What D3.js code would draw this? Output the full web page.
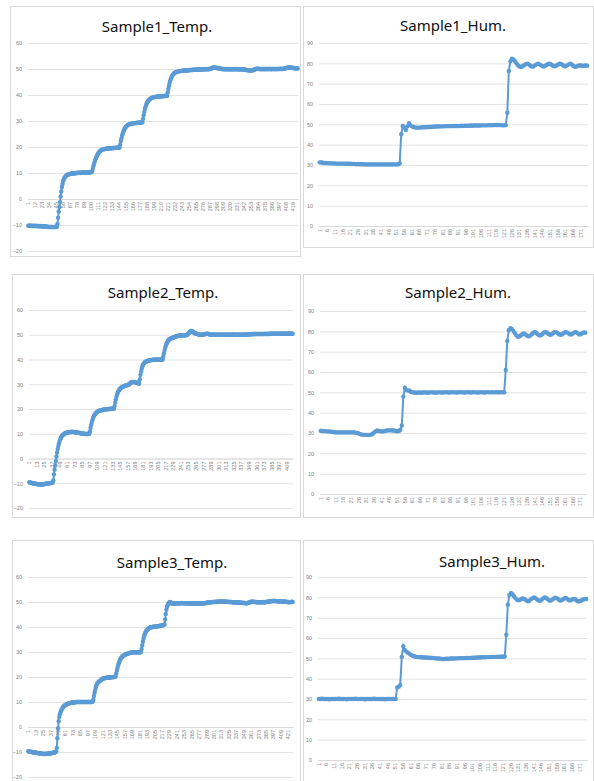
<!DOCTYPE html>
<html>
<head>
<meta charset="utf-8">
<script src="https://cdn.jsdelivr.net/npm/d3@7"></script>
<style>
  body { margin: 0; background: #fff; }
  svg { display: block; }
</style>
</head>
<body>
<div id="chart"></div>
<script>

// values (one point per sample)
var temp1 = [
  -10.3,-10.3,-10.4,-10.3,-10.3,-10.4,-10.4,-10.3,-10.4,-10.4,
  -10.4,-10.3,-10.4,-10.4,-10.5,-10.4,-10.4,-10.5,-10.5,-10.4,
  -10.5,-10.5,-10.6,-10.6,-10.5,-10.6,-10.7,-10.7,-10.6,-10.7,
  -10.7,-10.8,-10.7,-10.8,-10.8,-10.8,-10.7,-10.8,-10.8,-10.8,
  -10.8,-10.8,-10.7,-10.8,-10.8,-10.7,
  -9.6,-7.2,-4.8,-3.1,-1.2,1.0,2.9,4.6,5.8,6.9,
  7.6,8.1,8.5,8.8,9.0,9.2,9.3,9.4,9.5,9.6,9.6,9.7,9.7,
  9.8,9.8,9.9,9.8,9.9,10.0,9.9,10.0,10.0,10.1,10.0,10.1,10.1,10.0,10.1,10.2,10.1,10.1,10.2,10.2,
  10.1,10.2,10.2,10.3,10.2,10.2,10.3,10.2,10.3,10.3,10.3,10.4,
  10.8,11.9,12.9,13.8,14.6,15.3,15.9,16.5,17.0,17.4,17.8,18.1,18.4,18.6,18.8,
  18.9,19.0,19.1,19.1,19.2,19.2,19.3,19.3,19.3,19.4,19.4,19.4,19.5,19.4,19.5,19.5,19.6,19.5,19.6,19.6,
  19.6,19.7,19.6,19.7,19.7,19.7,19.8,19.7,19.8,
  21.0,22.3,23.4,24.4,25.2,25.9,26.5,27.0,27.4,27.8,28.1,28.3,28.5,28.6,28.7,28.8,28.9,28.9,
  29.0,29.0,29.1,29.1,29.1,29.2,29.2,29.2,29.3,29.2,29.3,29.3,29.3,29.4,29.3,29.4,29.4,29.5,
  30.8,32.2,33.5,34.6,35.5,36.2,36.8,37.3,37.7,38.0,38.3,38.5,38.7,38.8,38.9,39.0,
  39.1,39.1,39.2,39.2,39.3,39.3,39.3,39.4,39.4,39.4,39.5,39.4,39.5,39.5,39.5,39.6,39.5,39.6,39.6,39.6,39.7,39.6,39.7,
  41.0,42.4,43.6,44.7,45.6,46.3,46.9,47.4,47.8,48.1,48.3,48.5,48.7,48.8,48.9,49.0,49.0,49.1,49.1,
  49.2,49.2,49.2,49.3,49.3,49.3,49.3,49.4,49.4,49.4,49.4,49.5,49.5,49.5,49.5,49.5,49.6,49.6,49.6,49.6,
  49.6,49.7,49.7,49.7,49.7,49.7,49.7,49.8,49.8,49.8,49.8,49.8,49.8,
  49.8,49.9,49.9,49.9,49.8,49.9,49.9,49.9,49.9,50.0,49.9,49.9,50.0,49.9,50.0,50.0,50.1,50.2,
  50.4,50.5,50.6,50.6,50.6,50.5,50.5,50.4,50.4,50.3,50.3,50.2,50.2,
  50.1,50.1,50.0,50.0,50.0,49.9,49.9,50.0,49.9,49.9,49.9,50.0,49.9,49.9,49.9,49.9,50.0,49.9,49.9,49.9,
  49.9,49.9,50.0,49.9,49.9,49.9,50.0,49.9,49.9,49.9,49.9,49.9,49.8,49.9,49.9,49.8,49.8,49.8,49.7,49.7,
  49.7,49.6,
  49.6,49.5,49.5,49.5,49.4,49.4,49.4,49.4,49.5,49.5,49.6,49.7,49.8,49.9,50.0,
  50.1,50.1,50.1,50.0,50.0,50.0,50.0,50.0,49.9,50.0,50.0,50.0,49.9,50.0,50.0,50.0,50.0,49.9,50.0,50.0,
  50.0,50.0,50.0,49.9,50.0,50.0,50.0,50.0,50.0,50.0,49.9,50.0,50.0,50.0,50.0,50.0,50.0,50.0,50.1,50.0,
  50.0,50.0,50.1,50.1,50.1,
  50.2,50.3,50.4,50.5,50.5,50.6,50.6,50.6,50.6,50.5,50.5,50.5,50.4,50.4,50.4,50.3,50.3,50.3,50.2,50.3,50.2
];

var hum1 = [
  31.3,31.2,31.1,31.0,31.0,30.9,30.9,30.8,30.8,30.8,30.8,30.7,30.7,30.7,30.7,30.7,30.7,30.6,30.6,30.6,
  30.6,30.5,30.5,30.5,30.4,30.5,30.4,30.4,30.4,30.3,30.3,30.3,30.3,30.3,30.3,30.3,30.3,30.3,30.3,30.3,
  30.3,30.3,30.3,30.3,30.3,30.3,30.3,30.3,30.3,30.3,30.3,30.4,30.8,
  45.1,49.2,48.4,47.2,49.0,50.6,49.6,
  49.0,48.7,48.5,48.4,48.4,48.4,48.5,48.6,48.6,48.6,48.7,48.7,48.7,48.8,48.8,48.9,48.9,49.0,48.9,49.0,
  49.0,49.0,49.1,49.1,49.1,49.1,49.2,49.1,49.2,49.2,49.2,49.2,49.3,49.2,49.3,49.3,49.3,49.3,49.4,49.3,
  49.4,49.4,49.4,49.4,49.4,49.5,49.5,49.5,49.5,49.5,49.6,49.5,49.6,49.6,49.7,49.7,49.7,49.6,49.6,49.5,
  49.5,49.6,
  55.7,76.2,81.0,82.3,81.9,81.0,80.0,79.0,78.4,78.3,78.6,79.1,79.6,79.8,79.4,78.8,78.4,78.5,79.0,79.5,
  79.8,79.5,79.0,78.6,78.5,78.9,79.4,79.8,79.7,79.2,78.7,78.6,78.9,79.4,79.8,79.7,79.2,78.7,78.6,79.0,
  79.5,79.8,79.4,78.7,78.3,78.4,78.8,79.0,78.9,78.7,78.8,79.0,78.8
];

var temp2 = [
  -9.6,-9.7,-9.8,-9.8,-9.9,-10.0,-10.0,-10.1,-10.1,-10.2,-10.2,-10.3,-10.3,-10.4,-10.4,-10.4,-10.5,-10.5,-10.5,-10.5,
  -10.4,-10.5,-10.4,-10.4,-10.3,-10.3,-10.2,-10.2,-10.1,-10.1,-10.0,-10.0,-10.0,-9.9,-9.9,-9.9,-9.8,-9.8,
  -8.9,-6.4,-4.5,-2.8,-1.0,0.8,2.4,3.9,5.1,6.2,7.1,7.8,8.4,8.9,
  9.2,9.5,9.7,9.9,10.0,10.2,10.3,10.4,10.5,10.5,10.6,10.6,10.7,10.7,10.7,10.7,10.8,10.7,10.7,10.7,
  10.6,10.6,10.6,10.5,10.5,10.4,10.4,10.3,10.3,10.2,10.2,10.1,10.1,10.0,10.0,10.0,9.9,9.9,9.9,9.9,
  9.9,9.9,10.0,10.0,
  10.9,12.3,13.6,14.7,15.6,16.4,17.0,17.5,17.9,18.2,18.5,18.7,18.9,19.1,
  19.2,19.3,19.4,19.5,19.5,19.6,19.6,19.7,19.7,19.8,19.8,19.8,19.9,19.9,19.9,20.0,20.0,20.0,20.1,20.0,
  20.1,20.1,20.1,20.0,20.1,
  21.2,22.6,23.9,25.0,25.9,26.6,27.2,27.6,28.0,28.3,28.5,28.7,28.9,29.0,29.1,
  29.2,29.3,29.4,29.5,29.6,29.7,29.7,29.8,30.0,30.2,30.4,30.6,30.8,30.9,30.9,30.9,30.9,30.8,30.8,30.7,
  30.6,30.5,30.4,30.3,30.3,
  32.0,33.8,35.2,36.3,37.2,37.9,38.3,38.6,38.9,39.1,
  39.2,39.3,39.4,39.5,39.6,39.6,39.7,39.7,39.8,39.8,39.8,39.9,39.9,39.9,39.9,39.9,39.9,40.0,39.9,39.9,
  39.9,39.9,39.9,40.0,39.9,39.9,40.0,
  41.0,42.3,43.5,44.6,45.5,46.2,46.8,47.3,47.7,48.0,48.2,48.4,48.5,48.6,48.7,48.8,
  48.9,49.0,49.1,49.2,49.3,49.4,49.4,49.5,49.6,49.6,49.7,49.7,49.7,49.7,49.8,49.7,49.8,49.8,49.8,49.8,
  49.8,49.9,
  50.0,50.2,50.5,50.8,51.1,51.3,51.5,51.5,51.4,51.2,51.0,50.8,50.6,50.5,50.4,50.4,
  50.3,50.2,50.1,50.1,50.0,50.0,50.0,50.0,50.0,50.0,50.1,50.2,50.3,50.3,50.3,50.4,50.4,50.3,50.3,50.2,
  50.1,50.1,50.0,50.0,50.0,50.0,50.0,50.0,50.0,50.0,50.0,50.0,50.0,50.0,
  50.0,50.0,50.0,50.0,50.0,50.0,50.0,50.0,50.1,50.0,50.0,50.0,50.0,50.0,50.0,50.0,50.0,50.0,50.0,50.0,
  50.0,50.0,50.1,50.0,50.0,50.0,50.0,50.0,50.0,50.0,50.0,50.0,50.0,50.0,50.0,50.0,50.0,50.0,50.0,50.0,
  50.1,50.0,50.0,50.0,50.0,50.1,50.1,50.1,50.2,50.2,
  50.2,50.2,50.2,50.3,50.3,50.2,50.3,50.3,50.3,50.3,50.3,50.3,50.3,50.3,50.3,50.3,50.3,50.3,50.3,50.3,
  50.3,50.3,50.3,50.3,50.4,50.3,50.3,50.3,50.3,50.4,50.4,50.3,50.4,50.4,50.4,50.4,50.4,50.4,50.4,50.4,
  50.4,50.4,50.4,50.4,50.4,50.4,50.4,50.4,50.4,50.4,50.4,50.4,50.5,50.4,50.4,50.4,50.4,50.4,50.5,50.4,
  50.4,50.4,50.4,50.5,50.4,50.4,50.4,50.4
];

var hum2 = [
  31.1,31.0,30.9,30.9,30.8,30.8,30.7,30.6,30.5,30.4,30.3,30.3,30.3,30.3,30.3,30.3,30.3,30.3,30.3,30.3,
  30.3,30.3,30.3,30.2,30.0,29.7,29.4,29.2,29.1,29.1,29.1,29.1,29.1,29.2,29.6,30.3,30.9,31.2,31.0,30.8,
  30.8,30.8,31.0,31.2,31.3,31.3,31.3,31.2,31.2,31.0,30.8,30.9,31.6,
  33.7,47.9,52.3,51.1,50.9,50.8,50.2,
  50.0,49.9,49.8,49.8,49.9,49.9,49.8,49.9,50.0,49.9,49.8,49.9,50.0,50.0,49.9,49.8,49.9,50.0,50.0,49.9,
  49.9,50.0,50.1,50.0,49.9,50.0,50.1,50.0,50.0,49.9,50.0,50.1,50.0,50.0,49.9,50.0,50.1,50.0,49.9,50.0,
  50.1,50.0,50.0,49.9,50.0,50.1,50.0,49.9,50.0,50.1,50.0,50.0,50.1,50.0,50.0,50.1,50.0,50.0,50.1,50.0,
  50.0,
  61.0,75.3,80.5,81.6,81.2,80.2,79.1,78.0,77.3,77.5,78.1,78.7,78.9,78.4,77.8,77.5,77.9,78.6,79.3,79.7,
  79.2,78.5,78.0,78.1,78.7,79.4,79.7,79.3,78.7,78.3,78.5,79.1,79.6,79.6,79.1,78.5,78.3,78.6,79.2,79.6,
  79.5,79.0,78.5,78.5,79.0,79.5,79.6,79.1,78.5,78.6,79.1,79.5,79.3
];

var temp3 = [
  -9.7,-9.8,-9.8,-9.9,-9.9,-10.0,-10.0,-10.1,-10.1,-10.2,-10.2,-10.2,-10.3,-10.3,-10.4,-10.4,-10.5,-10.5,-10.5,-10.6,
  -10.6,-10.6,-10.7,-10.7,-10.8,-10.8,-10.7,-10.8,-10.8,-10.7,-10.7,-10.7,-10.7,-10.6,-10.6,-10.6,-10.5,-10.5,-10.4,-10.4,
  -10.3,-10.3,-10.2,-10.1,-10.0,-9.8,
  -8.4,-4.5,-0.5,2.3,4.0,5.1,5.9,6.5,7.0,7.5,7.9,8.2,8.4,
  8.6,8.8,8.9,9.1,9.2,9.3,9.4,9.5,9.6,9.6,9.7,9.7,9.8,9.8,9.8,9.9,9.9,9.9,10.0,10.0,
  10.0,10.0,10.0,10.0,10.0,10.0,10.0,10.0,10.0,10.0,10.0,10.0,10.0,10.0,10.0,10.0,10.0,10.0,10.0,10.0,
  10.0,10.0,10.0,10.0,10.0,10.1,
  11.0,12.4,13.7,14.8,15.8,16.6,17.2,17.6,17.9,18.1,18.3,18.5,
  18.7,18.9,19.1,19.3,19.4,19.5,19.5,19.6,19.6,19.7,19.7,19.7,19.8,19.8,19.8,19.8,19.9,19.9,19.9,19.9,
  20.0,20.0,20.0,20.1,20.2,
  21.3,22.5,23.6,24.6,25.4,26.1,26.7,27.2,27.6,27.9,28.2,28.4,28.6,28.8,28.9,29.0,29.1,
  29.2,29.3,29.4,29.5,29.6,29.6,29.7,29.7,29.8,29.8,29.9,29.9,29.9,29.9,29.9,29.9,29.9,29.9,29.9,29.9,
  29.9,29.9,29.9,30.0,
  31.2,32.7,34.1,35.3,36.3,37.1,37.7,38.2,38.6,38.9,39.1,39.3,39.5,
  39.7,39.8,39.9,39.9,40.0,40.0,40.1,40.1,40.1,40.2,40.2,40.2,40.3,40.3,40.3,40.4,40.4,40.5,40.5,40.6,
  40.6,40.7,40.8,40.9,41.0,
  43.0,45.2,46.9,48.0,48.7,49.2,49.6,49.9,50.0,
  49.8,49.6,49.4,49.3,49.3,49.3,49.4,49.4,49.4,49.5,49.5,49.5,49.5,49.4,49.5,49.5,49.5,49.5,49.6,49.5,
  49.5,49.5,49.5,49.5,49.5,49.5,49.5,49.4,49.5,49.5,
  49.5,49.4,49.4,49.4,49.4,49.5,49.4,49.4,49.4,49.4,49.4,49.4,49.4,49.4,49.4,49.4,49.3,49.4,49.4,49.4,
  49.4,49.4,49.4,49.5,49.5,49.5,49.6,49.6,49.7,49.7,49.8,49.8,49.8,49.9,49.9,49.9,49.9,50.0,50.0,50.0,
  50.0,50.0,50.0,50.1,50.0,50.1,50.1,50.1,50.1,50.1,50.2,50.1,50.1,50.2,50.1,50.1,50.1,50.2,50.1,50.1,
  50.1,50.1,50.1,50.0,50.0,50.0,50.0,50.0,50.0,49.9,49.9,49.9,49.9,49.9,49.9,49.8,49.8,49.8,49.8,49.8,
  49.8,49.8,49.7,49.7,49.7,
  49.7,49.6,49.6,49.6,49.6,49.6,49.5,49.5,49.5,49.6,49.6,49.7,49.8,49.9,50.0,50.1,50.1,50.1,50.1,50.1,
  50.0,50.0,50.0,50.0,49.9,
  49.9,49.9,49.9,49.9,49.9,49.9,49.9,49.9,49.9,50.0,49.9,49.9,49.9,50.0,50.0,50.0,50.1,50.1,50.1,50.2,
  50.2,50.3,50.3,50.3,50.4,50.4,50.4,50.4,50.4,50.4,50.4,50.3,50.3,50.3,50.3,50.3,50.2,50.2,50.3,50.3,
  50.2,50.2,50.2,50.2,50.1,50.1,50.1,50.0,50.0,50.0,50.0,49.9,49.9,50.0,50.0,50.0,50.1,50.0
];

var hum3 = [
  30.0,30.0,30.1,30.0,30.0,30.0,30.0,29.9,30.0,30.0,30.0,30.0,30.0,30.1,30.0,30.0,30.0,30.0,29.9,30.0,
  30.0,30.0,30.0,30.0,30.1,30.0,30.0,30.0,30.0,30.0,29.9,30.0,30.0,30.0,30.0,30.0,30.1,30.0,30.0,30.0,
  30.0,30.0,30.0,29.9,30.0,30.0,30.0,30.0,30.0,30.0,30.0,
  35.6,36.0,36.9,
  50.7,56.0,54.1,53.3,52.8,52.2,51.7,51.3,51.0,50.8,
  50.7,50.6,50.5,50.5,50.4,50.4,50.4,50.3,50.3,50.2,50.2,50.1,50.0,49.9,49.9,49.8,49.7,49.7,49.7,49.8,
  49.8,49.8,49.9,49.9,49.9,50.0,50.0,50.0,50.1,50.1,50.1,50.1,50.2,50.2,50.2,50.2,50.3,50.3,50.3,50.4,
  50.4,50.4,50.5,50.5,50.5,50.6,50.6,50.6,50.7,50.7,50.7,50.7,50.8,50.7,50.8,50.8,50.8,
  50.9,61.6,76.4,81.2,82.1,81.5,80.5,79.5,78.8,78.6,78.8,79.3,79.5,79.1,78.5,78.1,78.3,79.0,79.6,80.0,
  79.6,78.9,78.4,78.3,78.8,79.5,79.9,79.7,79.0,78.4,78.4,78.9,79.5,79.8,79.5,78.9,78.4,78.5,79.1,79.6,
  79.6,79.0,78.5,78.6,79.1,79.2,78.9,78.3,78.0,78.2,78.6,78.9,79.1,79.2
];

var titles = ["Sample1_Temp.", "Sample1_Hum.", "Sample2_Temp.", "Sample2_Hum.", "Sample3_Temp.", "Sample3_Hum."];
var tempTicks = [-20, -10, 0, 10, 20, 30, 40, 50, 60];
var humTicks = [0, 10, 20, 30, 40, 50, 60, 70, 80, 90];
var labelStep = [11, 5, 12, 5, 12, 5];

// panel boxes and plot areas
var panels = [
  {data: temp1, ticks: tempTicks, box: [10, 6, 290, 250],  plot: [28, 298, 43, 251],  tx: 157, ty: 32},
  {data: hum1,  ticks: humTicks,  box: [303, 6, 290, 241], plot: [319, 588, 43, 226], tx: 453, ty: 31},
  {data: temp2, ticks: tempTicks, box: [12, 274, 288, 243], plot: [29, 293, 310, 508], tx: 163, ty: 298},
  {data: hum2,  ticks: humTicks,  box: [303, 274, 290, 243], plot: [320, 586, 311, 494], tx: 458, ty: 298},
  {data: temp3, ticks: tempTicks, box: [12, 540, 288, 260], plot: [28, 293, 577, 777], tx: 172, ty: 568},
  {data: hum3,  ticks: humTicks,  box: [303, 540, 290, 260], plot: [318, 587, 577, 760], tx: 492, ty: 567}
];

var W = 594, H = 781;
var blue = "#5b9bd5";

var svg = d3.select("#chart").append("svg")
    .attr("width", W)
    .attr("height", H)
    .style("font-family", "'Noto Sans', 'Open Sans', sans-serif");

panels.forEach(function(p, k) {
  var g = svg.append("g");

  g.append("rect")
      .attr("x", p.box[0] + 0.5)
      .attr("y", p.box[1] + 0.5)
      .attr("width", p.box[2])
      .attr("height", p.box[3])
      .attr("fill", "#fff")
      .attr("stroke", "#d9d9d9");

  var cats = d3.range(1, p.data.length + 1);

  var x = d3.scaleBand()
    .domain(cats)
    .range([p.plot[0], p.plot[1]]);

  var lo = p.ticks[0], hi = p.ticks[p.ticks.length - 1];
  var y = d3.scaleLinear()
    .domain([lo, hi])
    .range([p.plot[3], p.plot[2]]);

  // gridlines
  g.append("g")
      .attr("transform", "translate(" + p.plot[0] + ",0)")
      .call(d3.axisLeft(y).tickValues(p.ticks).tickSize(-(p.plot[1] - p.plot[0])).tickFormat(""))
      .call(function(a) { a.select(".domain").remove(); })
      .selectAll("line")
        .attr("stroke", "#e3e3e3");

  // y labels
  g.append("g")
      .attr("transform", "translate(" + (p.plot[0] - 6) + ",0)")
      .call(d3.axisLeft(y).tickValues(p.ticks).tickSize(0).tickPadding(0))
      .call(function(a) { a.select(".domain").remove(); })
      .selectAll("text")
        .attr("fill", "#808080")
        .style("font-size", "5.5px");

  // category axis sits on the zero line
  var step = labelStep[k];
  var xa = g.append("g")
      .attr("transform", "translate(0," + y(0) + ")")
      .call(d3.axisBottom(x)
        .tickValues(cats.filter(function(c) { return (c - 1) % step === 0; }))
        .tickSize(0));
  xa.select(".domain").attr("stroke", "#d9d9d9");
  xa.selectAll("text")
      .attr("transform", "rotate(-90)")
      .attr("x", -3)
      .attr("y", 0)
      .attr("dy", "0.32em")
      .attr("text-anchor", "end")
      .attr("fill", "#808080")
      .style("font-size", "5.5px");

  var line = d3.line()
    .x(function(d, i) { return x(cats[i]) + x.bandwidth() / 2; })
    .y(function(d) { return y(d); });

  g.append("path")
      .datum(p.data)
      .attr("fill", "none")
      .attr("stroke", blue)
      .attr("stroke-width", 2)
      .attr("d", line);

  g.selectAll(".dot")
    .data(p.data)
    .enter()
    .append("circle")
      .attr("cx", function(d, i) { return x(cats[i]) + x.bandwidth() / 2; })
      .attr("cy", function(d) { return y(d); })
      .attr("r", 2.2)
      .attr("fill", blue);

  g.append("text")
      .attr("x", p.tx)
      .attr("y", p.ty)
      .attr("text-anchor", "middle")
      .style("font-size", "15px")
      .attr("fill", "#111")
      .text(titles[k]);
});

</script>
</body>
</html>
